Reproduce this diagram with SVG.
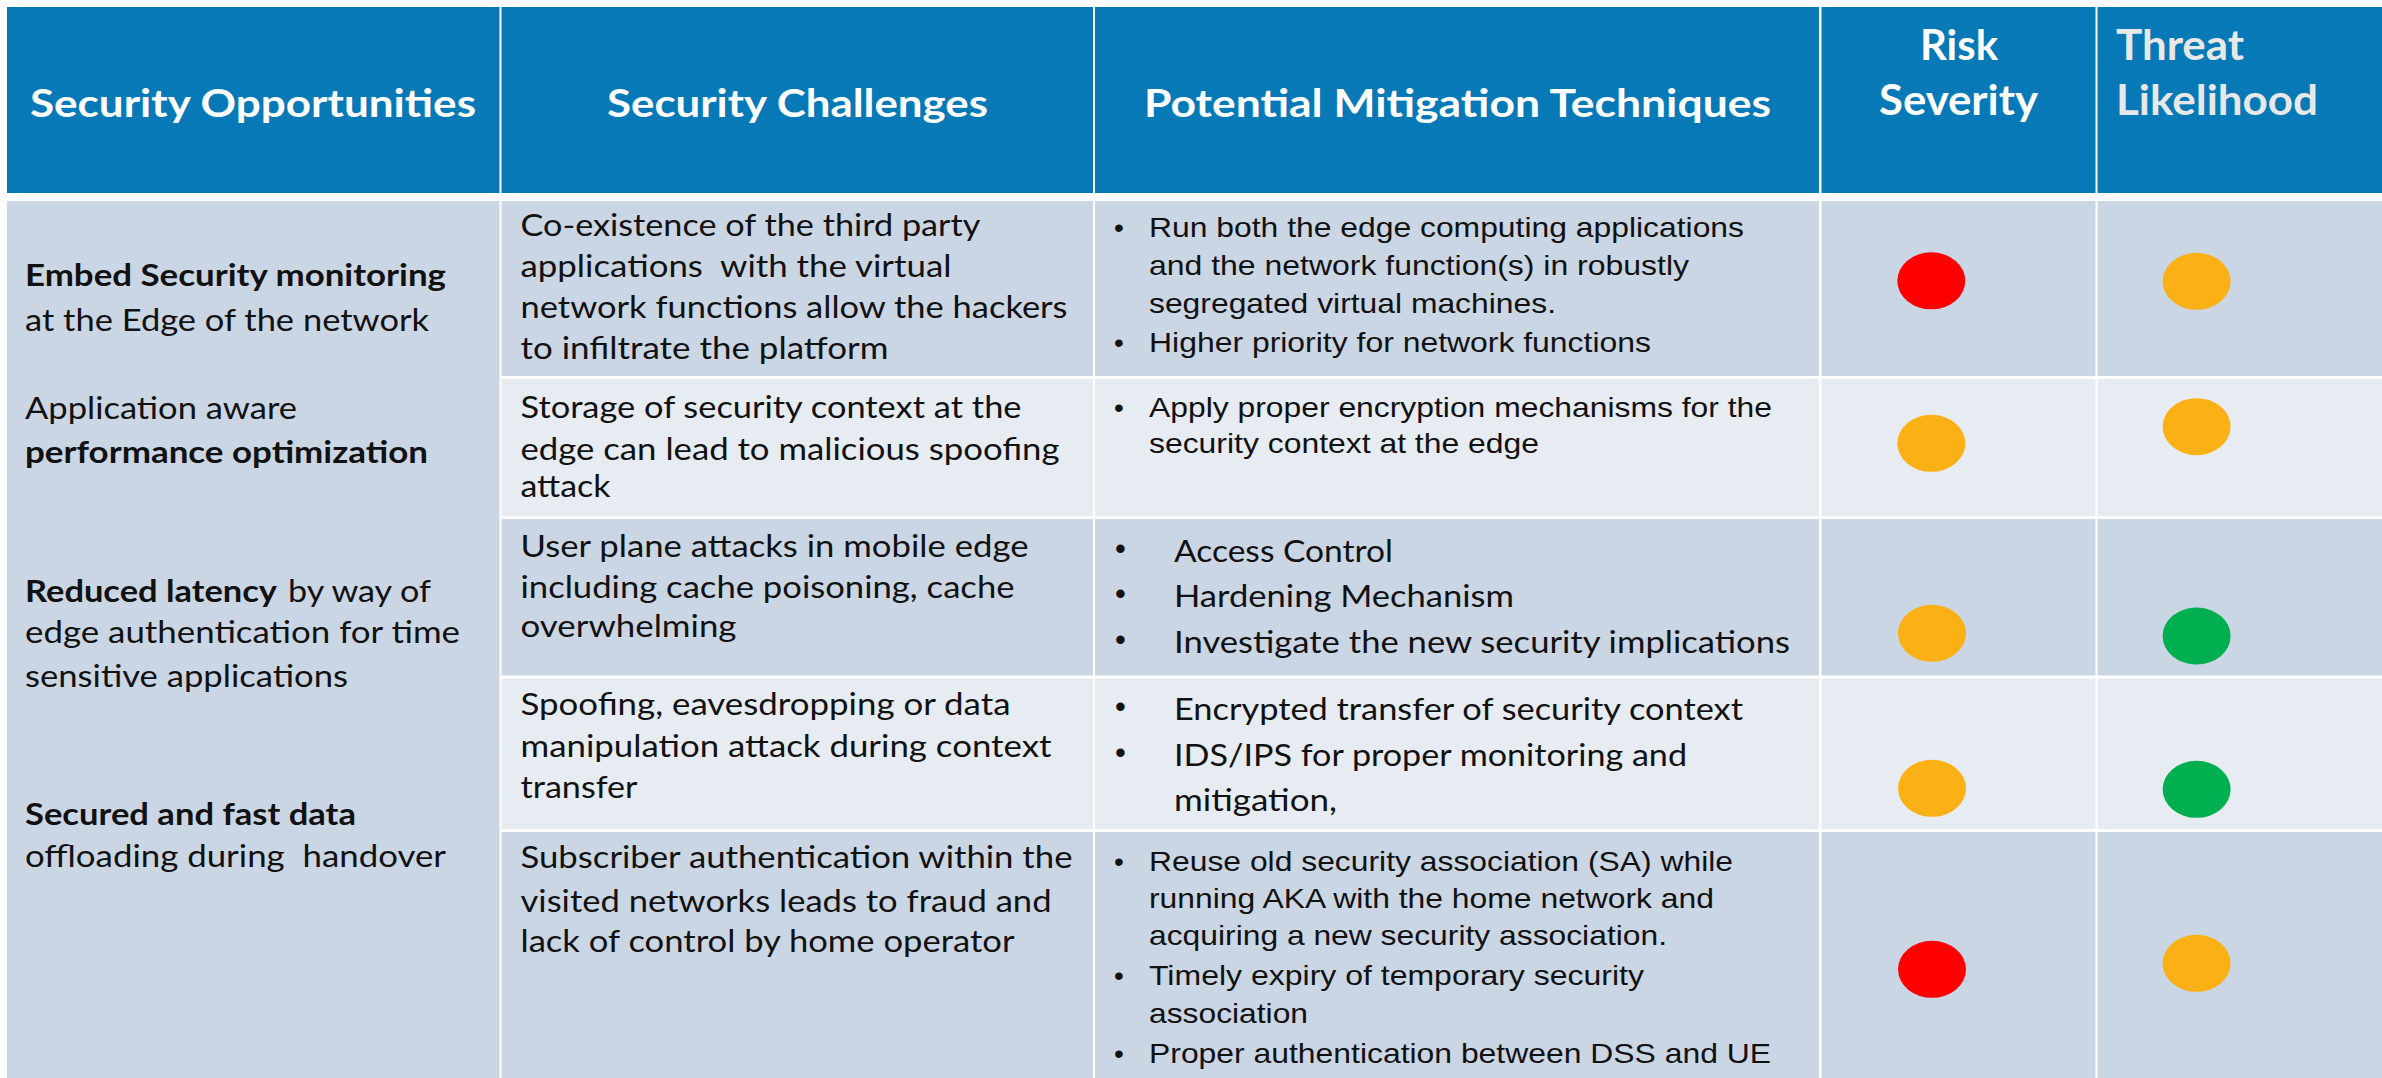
<svg xmlns="http://www.w3.org/2000/svg" width="2382" height="1078" viewBox="0 0 2382 1078">
  <style>
    .hd { fill: #0679B6; }
    .dk { fill: #CBD6E4; }
    .lt { fill: #E7ECF3; }
    .th { font-family: Lato, "Liberation Sans", sans-serif; font-weight: 700; font-size: 39px; fill: #FFFFFF; }
    .th2 { font-family: Lato, "Liberation Sans", sans-serif; font-weight: 700; font-size: 42px; fill: #FFFFFF; }
    .th3 { font-family: Lato, "Liberation Sans", sans-serif; font-weight: 700; font-size: 42px; fill: #E8E8E8; }
    .c { font-family: Lato, "Liberation Sans", sans-serif; font-size: 31px; fill: #111111; }
    .cb { font-family: Lato, "Liberation Sans", sans-serif; font-weight: 700; font-size: 31px; fill: #111111; }
    .a { font-family: "Liberation Sans", Arial, sans-serif; font-size: 28px; fill: #111111; }
    .bl { font-family: "Liberation Sans", Arial, sans-serif; font-size: 28px; fill: #111111; }
    .bc { font-family: "Liberation Sans", Arial, sans-serif; font-size: 31px; fill: #111111; }
    .red { fill: #FF0000; }
    .amb { fill: #FBB116; }
    .grn { fill: #00B050; }
  </style>
  <rect width="2382" height="1078" fill="#FFFFFF"/>

  <!-- header row -->
  <g id="header">
    <rect class="hd" x="7" y="7" width="492.5" height="186"/>
    <rect class="hd" x="501.5" y="7" width="591.5" height="186"/>
    <rect class="hd" x="1095" y="7" width="724" height="186"/>
    <rect class="hd" x="1821.5" y="7" width="274" height="186"/>
    <rect class="hd" x="2097.5" y="7" width="284.5" height="186"/>
    <text class="th" x="30" y="117" textLength="446" lengthAdjust="spacingAndGlyphs">Security Opportunities</text>
    <text class="th" x="607" y="117" textLength="381" lengthAdjust="spacingAndGlyphs">Security Challenges</text>
    <text class="th" x="1144" y="117" textLength="627" lengthAdjust="spacingAndGlyphs">Potential Mitigation Techniques</text>
    <text class="th2" x="1920" y="60" textLength="78" lengthAdjust="spacingAndGlyphs">Risk</text>
    <text class="th2" x="1879" y="115" textLength="159" lengthAdjust="spacingAndGlyphs">Severity</text>
    <text class="th3" x="2116" y="60" textLength="128" lengthAdjust="spacingAndGlyphs">Threat</text>
    <text class="th3" x="2116" y="115" textLength="202" lengthAdjust="spacingAndGlyphs">Likelihood</text>
  </g>

  <!-- opportunities column, spanning all rows -->
  <g id="opportunities">
    <rect class="dk" x="7" y="201" width="492.5" height="877"/>
    <text class="cb" x="25" y="286" textLength="421" lengthAdjust="spacingAndGlyphs">Embed Security monitoring</text>
    <text class="c" x="25" y="331" textLength="404" lengthAdjust="spacingAndGlyphs">at the Edge of the network</text>
    <text class="c" x="25" y="419" textLength="272" lengthAdjust="spacingAndGlyphs">Application aware</text>
    <text class="cb" x="25" y="463" textLength="403" lengthAdjust="spacingAndGlyphs">performance optimization</text>
    <text class="cb" x="25" y="602" textLength="252" lengthAdjust="spacingAndGlyphs">Reduced latency</text>
    <text class="c" x="288" y="602" textLength="143" lengthAdjust="spacingAndGlyphs">by way of</text>
    <text class="c" x="25" y="643" textLength="435" lengthAdjust="spacingAndGlyphs">edge authentication for time</text>
    <text class="c" x="25" y="687" textLength="323" lengthAdjust="spacingAndGlyphs">sensitive applications</text>
    <text class="cb" x="25" y="825" textLength="331" lengthAdjust="spacingAndGlyphs">Secured and fast data</text>
    <text class="c" x="25" y="867" textLength="421" lengthAdjust="spacingAndGlyphs" xml:space="preserve">offloading during  handover</text>
  </g>

  <!-- row 1 -->
  <g id="row1">
    <rect class="dk" x="501.5" y="201" width="591.5" height="175"/>
    <rect class="dk" x="1095" y="201" width="724" height="175"/>
    <rect class="dk" x="1821.5" y="201" width="274" height="175"/>
    <rect class="dk" x="2097.5" y="201" width="284.5" height="175"/>
    <text class="c" x="520.5" y="236" textLength="460" lengthAdjust="spacingAndGlyphs">Co-existence of the third party</text>
    <text class="c" x="520.5" y="277" textLength="431" lengthAdjust="spacingAndGlyphs" xml:space="preserve">applications  with the virtual</text>
    <text class="c" x="520.5" y="318" textLength="547" lengthAdjust="spacingAndGlyphs">network functions allow the hackers</text>
    <text class="c" x="520.5" y="359" textLength="368" lengthAdjust="spacingAndGlyphs">to infiltrate the platform</text>
    <text class="bl" x="1114" y="237">•</text>
    <text class="a" x="1149" y="237" textLength="595" lengthAdjust="spacingAndGlyphs">Run both the edge computing applications</text>
    <text class="a" x="1149" y="275" textLength="540" lengthAdjust="spacingAndGlyphs">and the network function(s) in robustly</text>
    <text class="a" x="1149" y="313" textLength="407" lengthAdjust="spacingAndGlyphs">segregated virtual machines.</text>
    <text class="bl" x="1114" y="352">•</text>
    <text class="a" x="1149" y="352" textLength="502" lengthAdjust="spacingAndGlyphs">Higher priority for network functions</text>
    <ellipse class="red" cx="1931.3" cy="280.8" rx="34" ry="28.5"/>
    <ellipse class="amb" cx="2196.6" cy="281.3" rx="34" ry="28.5"/>
  </g>

  <!-- row 2 -->
  <g id="row2">
    <rect class="lt" x="501.5" y="379" width="591.5" height="137"/>
    <rect class="lt" x="1095" y="379" width="724" height="137"/>
    <rect class="lt" x="1821.5" y="379" width="274" height="137"/>
    <rect class="lt" x="2097.5" y="379" width="284.5" height="137"/>
    <text class="c" x="520.5" y="418" textLength="501" lengthAdjust="spacingAndGlyphs">Storage of security context at the</text>
    <text class="c" x="520.5" y="460" textLength="539" lengthAdjust="spacingAndGlyphs">edge can lead to malicious spoofing</text>
    <text class="c" x="520.5" y="497" textLength="90" lengthAdjust="spacingAndGlyphs">attack</text>
    <text class="bl" x="1114" y="417">•</text>
    <text class="a" x="1149" y="417" textLength="623" lengthAdjust="spacingAndGlyphs">Apply proper encryption mechanisms for the</text>
    <text class="a" x="1149" y="453" textLength="390" lengthAdjust="spacingAndGlyphs">security context at the edge</text>
    <ellipse class="amb" cx="1931.3" cy="443.3" rx="34" ry="28.5"/>
    <ellipse class="amb" cx="2196.6" cy="426.7" rx="34" ry="28.5"/>
  </g>

  <!-- row 3 -->
  <g id="row3">
    <rect class="dk" x="501.5" y="519" width="591.5" height="156.5"/>
    <rect class="dk" x="1095" y="519" width="724" height="156.5"/>
    <rect class="dk" x="1821.5" y="519" width="274" height="156.5"/>
    <rect class="dk" x="2097.5" y="519" width="284.5" height="156.5"/>
    <text class="c" x="520.5" y="557" textLength="508" lengthAdjust="spacingAndGlyphs">User plane attacks in mobile edge</text>
    <text class="c" x="520.5" y="598" textLength="494" lengthAdjust="spacingAndGlyphs">including cache poisoning, cache</text>
    <text class="c" x="520.5" y="637" textLength="216" lengthAdjust="spacingAndGlyphs">overwhelming</text>
    <text class="bc" x="1115" y="559">•</text>
    <text class="c" x="1174" y="562" textLength="219" lengthAdjust="spacingAndGlyphs">Access Control</text>
    <text class="bc" x="1115" y="604">•</text>
    <text class="c" x="1174" y="607" textLength="340" lengthAdjust="spacingAndGlyphs">Hardening Mechanism</text>
    <text class="bc" x="1115" y="650">•</text>
    <text class="c" x="1174" y="653" textLength="616" lengthAdjust="spacingAndGlyphs">Investigate the new security implications</text>
    <ellipse class="amb" cx="1932" cy="633.3" rx="34" ry="28.5"/>
    <ellipse class="grn" cx="2196.6" cy="636" rx="34" ry="28.5"/>
  </g>

  <!-- row 4 -->
  <g id="row4">
    <rect class="lt" x="501.5" y="678.5" width="591.5" height="150.5"/>
    <rect class="lt" x="1095" y="678.5" width="724" height="150.5"/>
    <rect class="lt" x="1821.5" y="678.5" width="274" height="150.5"/>
    <rect class="lt" x="2097.5" y="678.5" width="284.5" height="150.5"/>
    <text class="c" x="520.5" y="715" textLength="490" lengthAdjust="spacingAndGlyphs">Spoofing, eavesdropping or data</text>
    <text class="c" x="520.5" y="757" textLength="531" lengthAdjust="spacingAndGlyphs">manipulation attack during context</text>
    <text class="c" x="520.5" y="798" textLength="117" lengthAdjust="spacingAndGlyphs">transfer</text>
    <text class="bc" x="1115" y="717">•</text>
    <text class="c" x="1174" y="720" textLength="569" lengthAdjust="spacingAndGlyphs">Encrypted transfer of security context</text>
    <text class="bc" x="1115" y="763">•</text>
    <text class="c" x="1174" y="766" textLength="513" lengthAdjust="spacingAndGlyphs">IDS/IPS for proper monitoring and</text>
    <text class="c" x="1174" y="811" textLength="163" lengthAdjust="spacingAndGlyphs">mitigation,</text>
    <ellipse class="amb" cx="1932" cy="788.3" rx="34" ry="28.5"/>
    <ellipse class="grn" cx="2196.6" cy="789.3" rx="34" ry="28.5"/>
  </g>

  <!-- row 5 -->
  <g id="row5">
    <rect class="dk" x="501.5" y="832" width="591.5" height="246"/>
    <rect class="dk" x="1095" y="832" width="724" height="246"/>
    <rect class="dk" x="1821.5" y="832" width="274" height="246"/>
    <rect class="dk" x="2097.5" y="832" width="284.5" height="246"/>
    <text class="c" x="520.5" y="868" textLength="552" lengthAdjust="spacingAndGlyphs">Subscriber authentication within the</text>
    <text class="c" x="520.5" y="912" textLength="531" lengthAdjust="spacingAndGlyphs">visited networks leads to fraud and</text>
    <text class="c" x="520.5" y="952" textLength="494" lengthAdjust="spacingAndGlyphs">lack of control by home operator</text>
    <text class="bl" x="1114" y="871">•</text>
    <text class="a" x="1149" y="871" textLength="584" lengthAdjust="spacingAndGlyphs">Reuse old security association (SA) while</text>
    <text class="a" x="1149" y="908" textLength="565" lengthAdjust="spacingAndGlyphs">running AKA with the home network and</text>
    <text class="a" x="1149" y="945" textLength="518" lengthAdjust="spacingAndGlyphs">acquiring a new security association.</text>
    <text class="bl" x="1114" y="985">•</text>
    <text class="a" x="1149" y="985" textLength="495" lengthAdjust="spacingAndGlyphs">Timely expiry of temporary security</text>
    <text class="a" x="1149" y="1023" textLength="159" lengthAdjust="spacingAndGlyphs">association</text>
    <text class="bl" x="1114" y="1063">•</text>
    <text class="a" x="1149" y="1063" textLength="622" lengthAdjust="spacingAndGlyphs">Proper authentication between DSS and UE</text>
    <ellipse class="red" cx="1932" cy="969.3" rx="34" ry="28.5"/>
    <ellipse class="amb" cx="2196.6" cy="963.3" rx="34" ry="28.5"/>
  </g>
</svg>
